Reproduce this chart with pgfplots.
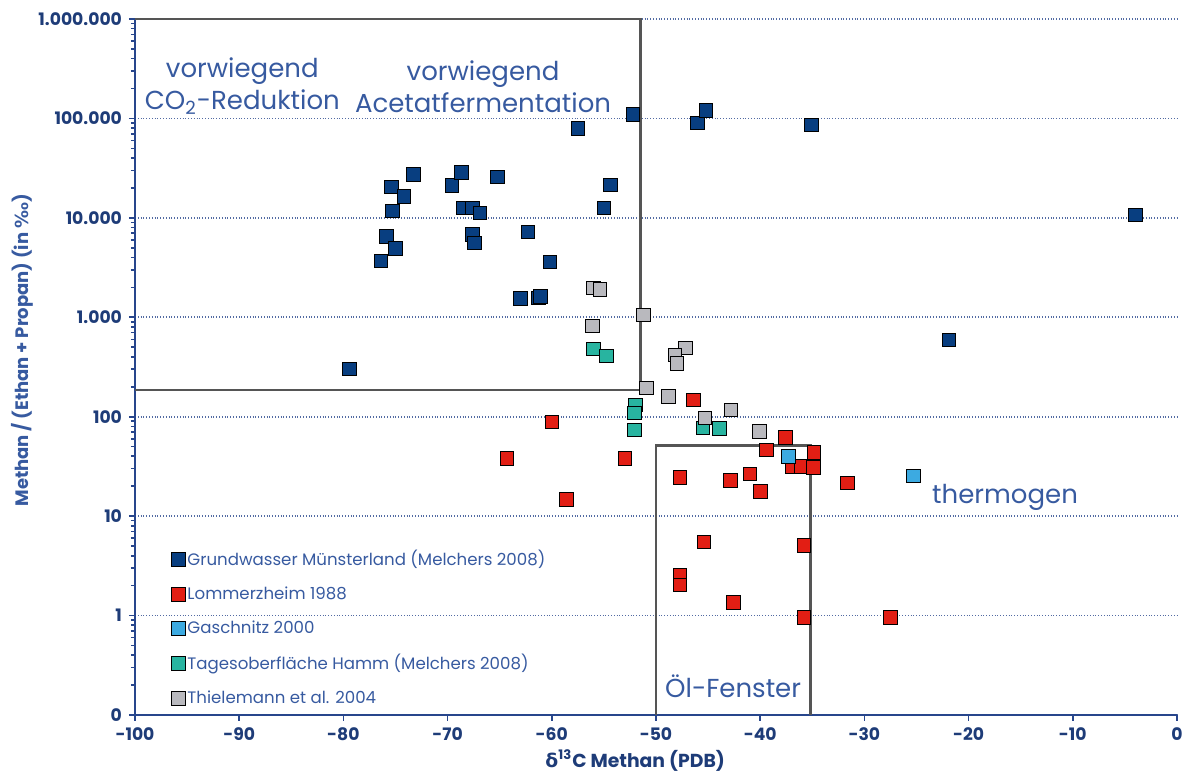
\documentclass[border=0pt]{standalone}
\usepackage{fontspec}
\setmainfont{Poppins}
\newfontfamily\dejavu{DejaVu Sans}
\usepackage{pgfplots}
\pgfplotsset{compat=1.18}
\definecolor{navy}{RGB}{8,62,128}
\definecolor{mred}{RGB}{226,30,20}
\definecolor{lblue}{RGB}{60,170,225}
\definecolor{mteal}{RGB}{40,180,160}
\definecolor{mgrey}{RGB}{185,185,190}
\definecolor{txtblue}{RGB}{55,90,160}
\definecolor{tickblue}{RGB}{30,60,120}
\definecolor{axblue}{RGB}{40,70,140}
\definecolor{edge}{RGB}{40,40,40}
\definecolor{boxgrey}{RGB}{85,85,85}
\begin{document}
\begin{tikzpicture}
\useasboundingbox (0,0) rectangle (600pt,387.5pt);
\begin{axis}[
  at={(67.5pt,30pt)}, anchor=south west,
  scale only axis, width=521pt, height=348pt,
  xmin=-100, xmax=0, ymode=log, ymin=0.1, ymax=1000000,
  axis lines=left, axis line style={-, axblue, line width=1.2pt},
  clip=false,
  xtick={-100,-90,...,0},
  xticklabels={-100,-90,-80,-70,-60,-50,-40,-30,-20,-10,0},
  ytick={0.1,1,10,100,1000,10000,100000,1000000},
  yticklabels={0,1,10,100,1.000,10.000,100.000,1.000.000},
  tick align=outside,
  major tick length=3pt, minor tick length=2pt,
  tick style={axblue, line width=0.8pt},
  ticklabel style={font=\fontsize{8.6}{10}\selectfont\bfseries, text=tickblue},
  ymajorgrids, grid style={densely dotted, axblue!80, line width=0.9pt},
  xlabel={{\dejavu δ}\textsuperscript{13}C Methan (PDB)},
  xlabel style={at={(axis description cs:0.48,0)}, anchor=north, yshift=-14pt, font=\fontsize{9.4}{10}\selectfont\bfseries, text=tickblue},
  ylabel={Methan / (Ethan + Propan) (in {\dejavu ‰})},
  ylabel style={at={(axis description cs:-0.108,0.524)}, anchor=center, font=\fontsize{9}{10}\selectfont\bfseries, text=txtblue},
  legend style={draw=none, fill=none, at={(rel axis cs:0.035,0.24)}, anchor=north west,
     font=\fontsize{8.3}{10}\selectfont, text=txtblue, row sep=7pt, inner sep=0pt,
     nodes={inner sep=1pt}},
  legend cell align=left,
  every axis plot/.append style={only marks, mark=square*, mark size=3.4pt, mark options={draw=edge, line width=0.6pt}},
]
% boxes
\addplot[no marks, draw=boxgrey, line width=1.3pt, forget plot, sharp plot] coordinates {(-100,186) (-51.5,186) (-51.5,1000000) (-100,1000000)};
\addplot[no marks, draw=boxgrey, line width=1.3pt, forget plot, sharp plot] coordinates {(-50,0.1) (-50,51) (-35.2,51) (-35.2,0.1)};
% data
\addplot[mark options={fill=navy}] coordinates {
(-79.4,303) (-76.4,3700) (-75.9,6500) (-75.0,4900) (-75.3,11700) (-75.4,20500)
(-74.2,16500) (-73.3,27500) (-69.6,21100) (-68.7,28700) (-68.5,12600) (-67.6,12600)
(-66.9,11200) (-67.6,6800) (-67.4,5600) (-65.2,25800) (-62.3,7200) (-60.2,3600)
(-63.0,1550) (-61.3,1560) (-61.1,1620) (-57.5,79000) (-54.4,21500) (-55.0,12600)
(-52.2,110000) (-46.0,90000) (-45.2,121000) (-35.1,85800) (-21.9,595) (-4.0,10700)
};
\addlegendentry{Grundwasser Münsterland (Melchers 2008)}
\addplot[mark options={fill=mred}] coordinates {
(-64.3,38) (-60.0,89) (-58.6,14.8) (-53.0,38) (-47.7,24.6) (-47.7,2.57) (-47.7,2.04)
(-46.4,148) (-45.4,5.5) (-42.85,22.8) (-42.6,1.35) (-41.0,26.6) (-40.0,17.8)
(-39.4,46.4) (-37.6,62) (-36.9,31.7) (-36.1,31.5) (-34.85,44) (-34.9,31)
(-35.8,5.1) (-35.8,0.96) (-31.65,21.5) (-27.5,0.96)
};
\addlegendentry{Lommerzheim 1988}
\addplot[mark options={fill=lblue}] coordinates {(-37.3,40) (-25.3,25.4)};
\addlegendentry{Gaschnitz 2000}
\addplot[mark options={fill=mteal}] coordinates {
(-56.0,480) (-54.75,410) (-52.0,132) (-52.1,109) (-52.1,74) (-45.5,77) (-43.9,76)
};
\addlegendentry{Tagesoberfläche Hamm (Melchers 2008)}
\addplot[mark options={fill=mgrey}] coordinates {
(-56.0,1970) (-55.4,1900) (-51.2,1060) (-56.1,820) (-47.2,490) (-48.2,420)
(-48.0,345) (-50.9,195) (-48.8,160) (-45.3,97) (-42.8,117) (-40.1,71)
};
\addlegendentry{Thielemann et al. 2004}
% annotations
\node[text=txtblue, font=\fontsize{13}{16}\selectfont, align=center] at (axis cs:-89.7,210000) {vorwiegend\\CO\textsubscript{2}-Reduktion};
\node[text=txtblue, font=\fontsize{13}{16}\selectfont, align=center] at (axis cs:-66.6,210000) {vorwiegend\\Acetatfermentation};
\node[text=txtblue, font=\fontsize{13}{16}\selectfont] at (axis cs:-42.6,0.195) {Öl-Fenster};
\node[text=txtblue, font=\fontsize{13}{16}\selectfont] at (axis cs:-16.5,15.6) {thermogen};
\end{axis}
\end{tikzpicture}
\end{document}
